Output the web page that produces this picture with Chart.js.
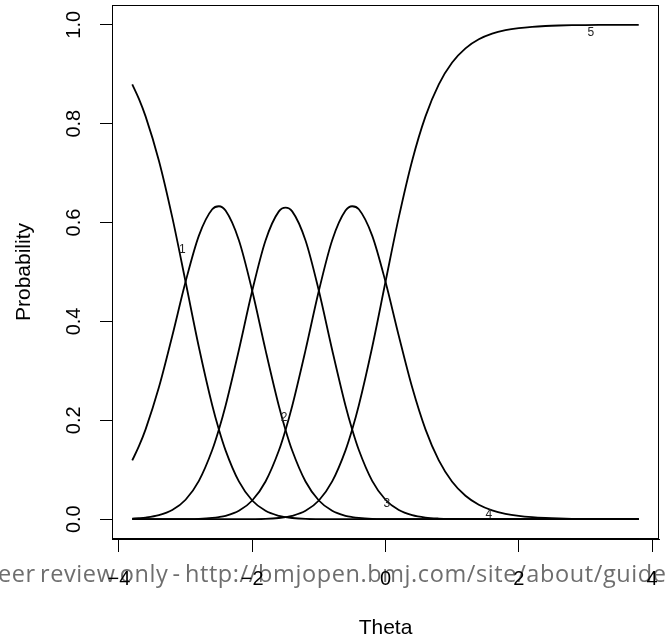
<!DOCTYPE html>
<html>
<head>
<meta charset="utf-8">
<script src="https://cdn.jsdelivr.net/npm/chart.js@4.4.1/dist/chart.umd.min.js"></script>
<style>
  body { margin: 0; background: #fff; }
  #wrap { width: 667px; height: 642px; }
</style>
</head>
<body>
<div id="wrap"><canvas id="irt" width="667" height="642"></canvas></div>
<script>
// theta grid (extra points near the left end and at the three peaks)
var theta = [-3.8, -3.7, -3.6, -3.4, -3.2, -3.0, -2.8, -2.6, -2.5, -2.4, -2.2, -2.0, -1.8, -1.6, -1.5,
             -1.4, -1.2, -1.0, -0.8, -0.6, -0.5, -0.4, -0.2,
             0, 0.2, 0.4, 0.6, 0.8, 1.0, 1.2, 1.4, 1.6, 1.8, 2.0, 2.2, 2.4, 2.6, 2.8, 3.0, 3.2, 3.4, 3.6, 3.8];

// category probability curves
var cat1 = [0.8796, 0.8502, 0.8148, 0.7252, 0.6109, 0.4802, 0.3479, 0.2306, 0.1814, 0.1393, 0.0764, 0.0379, 0.0170, 0.0069, 0.0042,
            0.0025, 0.0008, 0.0003, 0.0001, 0, 0, 0, 0,
            0, 0, 0, 0, 0, 0, 0, 0, 0, 0, 0, 0, 0, 0, 0, 0, 0, 0, 0, 0];
var cat2 = [0.1190, 0.1477, 0.1818, 0.2668, 0.3706, 0.4802, 0.5736, 0.6269, 0.6330, 0.6242, 0.5643, 0.4620, 0.3420, 0.2290, 0.1806,
            0.1389, 0.0763, 0.0379, 0.0170, 0.0069, 0.0043, 0.0026, 0.0009,
            0.0003, 0.0001, 0, 0, 0, 0, 0, 0, 0, 0, 0, 0, 0, 0, 0, 0, 0, 0, 0, 0];
var cat3 = [0.0013, 0.0021, 0.0033, 0.0081, 0.0185, 0.0394, 0.0776, 0.1399, 0.1814, 0.2296, 0.3423, 0.4620, 0.5638, 0.6226, 0.6303,
            0.6226, 0.5638, 0.4620, 0.3423, 0.2296, 0.1814, 0.1399, 0.0776,
            0.0394, 0.0185, 0.0081, 0.0033, 0.0013, 0.0005, 0.0002, 0.0001, 0, 0, 0, 0, 0, 0, 0, 0, 0, 0, 0, 0];
var cat4 = [0, 0, 0, 0, 0.0001, 0.0003, 0.0009, 0.0026, 0.0043, 0.0069, 0.0170, 0.0379, 0.0763, 0.1389, 0.1806,
            0.2290, 0.3420, 0.4620, 0.5643, 0.6242, 0.6330, 0.6269, 0.5736,
            0.4802, 0.3706, 0.2668, 0.1818, 0.1190, 0.0758, 0.0474, 0.0293, 0.0180, 0.0110, 0.0067, 0.0041,
            0.0025, 0.0015, 0.0009, 0.0006, 0.0003, 0.0002, 0.0001, 0.0001];
var cat5 = [0, 0, 0, 0, 0, 0, 0, 0, 0, 0, 0.0001, 0.0003, 0.0008, 0.0025, 0.0042,
            0.0069, 0.0170, 0.0379, 0.0764, 0.1393, 0.1814, 0.2306, 0.3479,
            0.4802, 0.6109, 0.7252, 0.8148, 0.8796, 0.9237, 0.9524, 0.9706, 0.9820, 0.9890, 0.9933, 0.9959,
            0.9975, 0.9985, 0.9991, 0.9995, 0.9997, 0.9998, 0.9999, 0.9999];

var xTicks = [-4, -2, 0, 2, 4];
var yTicks = [0, 0.2, 0.4, 0.6, 0.8, 1.0];

// little category numbers written on the curves
var labelText = ['1', '2', '3', '4', '5'];
var labelTheta = [-3.05, -1.52, 0.02, 1.55, 3.08];
var labelProb = [0.545, 0.205, 0.031, 0.009, 0.985];

var watermark = 'For peer review only - http://bmjopen.bmj.com/site/about/guidelines.xhtml';

var FONT = '"Liberation Sans", Arial, Helvetica, sans-serif';

function toPoints(ys) {
    return theta.map(function (t, i) { return { x: t, y: ys[i] }; });
}

var extras = {
    id: 'extras',
    beforeDraw: function (chart) {
        var ctx = chart.ctx;
        ctx.save();
        ctx.font = '23.5px "Open Sans", "Noto Sans", sans-serif';
        ctx.letterSpacing = '0.6px';
        ctx.wordSpacing = '-2.5px';
        ctx.fillStyle = '#6e6e6e';
        ctx.textBaseline = 'alphabetic';
        var off = ctx.measureText('For p').width;
        ctx.fillText(watermark, -2 - off, 582);
        ctx.restore();
    },
    afterDatasetsDraw: function (chart) {
        var ctx = chart.ctx, a = chart.chartArea;
        var xs = chart.scales.x, ys = chart.scales.y;
        ctx.save();
        ctx.strokeStyle = '#000';
        ctx.lineWidth = 1;
        ctx.strokeRect(a.left + 0.5, a.top + 0.5, a.right - a.left - 1, a.bottom - a.top - 1);
        ctx.fillStyle = '#222';
        ctx.font = '12px ' + FONT;
        ctx.textAlign = 'center';
        ctx.textBaseline = 'middle';
        labelText.forEach(function (t, i) {
            ctx.fillText(t, xs.getPixelForValue(labelTheta[i]), ys.getPixelForValue(labelProb[i]));
        });
        ctx.restore();
    }
};

var curves = [cat1, cat2, cat3, cat4, cat5];

new Chart(document.getElementById('irt'), {
    type: 'line',
    data: {
        datasets: curves.map(function (ys, i) {
            return {
                label: labelText[i],
                data: toPoints(ys),
                borderColor: '#000',
                borderWidth: 1.8,
                pointRadius: 0,
                fill: false,
                cubicInterpolationMode: 'monotone'
            };
        })
    },
    options: {
        responsive: false,
        animation: false,
        devicePixelRatio: 1,
        layout: { padding: { left: 0, top: 5, right: 8, bottom: 0 } },
        plugins: { legend: { display: false }, tooltip: { enabled: false } },
        scales: {
            x: {
                type: 'linear',
                min: -4.104,
                max: 4.104,
                afterBuildTicks: function (s) { s.ticks = xTicks.map(function (v) { return { value: v }; }); },
                afterFit: function (s) { s.height = 103; s.paddingLeft = 0; s.paddingRight = 0; },
                grid: { drawOnChartArea: false, drawTicks: true, tickLength: 13, color: '#000' },
                border: { display: true, color: '#000', width: 1 },
                ticks: {
                    color: '#000', font: { family: FONT, size: 20 }, padding: 15,
                    maxRotation: 0, autoSkip: false,
                    callback: function (v) { return String(v).replace('-', '\u2212'); }
                },
                title: { display: true, text: 'Theta', color: '#000', font: { family: FONT, size: 21 }, padding: { top: 0, bottom: 1 } }
            },
            y: {
                type: 'linear',
                min: -0.04,
                max: 1.04,
                afterBuildTicks: function (s) { s.ticks = yTicks.map(function (v) { return { value: v }; }); },
                afterFit: function (s) { s.width = 112; s.paddingTop = 0; s.paddingBottom = 0; },
                grid: { drawOnChartArea: false, drawTicks: true, tickLength: 12, color: '#000' },
                border: { display: true, color: '#000', width: 1 },
                ticks: {
                    color: '#000', font: { family: FONT, size: 20 }, padding: 12,
                    minRotation: 90, maxRotation: 90, crossAlign: 'center', autoSkip: false,
                    callback: function (v) { return v.toFixed(1); }
                },
                title: { display: true, text: 'Probability', color: '#000', font: { family: FONT, size: 21 }, padding: { top: 12, bottom: 0 } }
            }
        }
    },
    plugins: [extras]
});
</script>
</body>
</html>
